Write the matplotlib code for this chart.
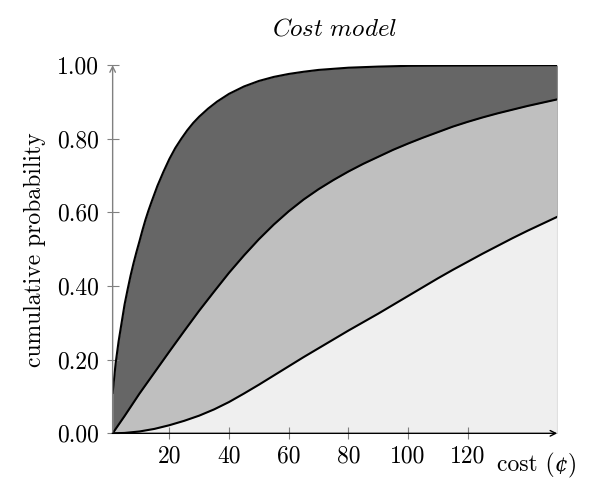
import matplotlib
matplotlib.use("Agg")
import matplotlib.pyplot as plt

plt.rcParams['font.family'] = ['cmr10', 'DejaVu Serif']
plt.rcParams['mathtext.fontset'] = 'cm'
plt.rcParams['axes.formatter.use_mathtext'] = True

# custo (centavos) e probabilidade acumulada de cada curva
cost_top = [1, 1.5, 2, 2.5, 3, 3.5, 4, 5, 6, 7, 8, 9, 10, 11, 12, 13, 14, 15, 16, 18, 20,
            22, 24, 26, 28, 30, 33, 36, 40, 45, 50, 55, 60, 65, 70, 80, 90, 100, 120, 150]
prob_top = [0.11, 0.15, 0.19, 0.22, 0.25, 0.275, 0.30, 0.35, 0.39, 0.428, 0.462, 0.493,
            0.522, 0.552, 0.58, 0.605, 0.628, 0.65, 0.672, 0.71, 0.745, 0.775, 0.80, 0.823,
            0.843, 0.86, 0.882, 0.901, 0.922, 0.942, 0.957, 0.968, 0.976, 0.982, 0.987,
            0.993, 0.996, 0.998, 0.999, 1.0]

cost_mid = [1, 5, 10, 15, 20, 25, 30, 35, 40, 45, 50, 55, 60, 65, 70, 75, 80, 85, 90, 95,
            100, 105, 110, 115, 120, 125, 130, 135, 140, 145, 150]
prob_mid = [0.0, 0.047, 0.108, 0.165, 0.222, 0.278, 0.333, 0.385, 0.436, 0.483, 0.527,
            0.567, 0.603, 0.635, 0.663, 0.688, 0.711, 0.732, 0.751, 0.77, 0.787, 0.803,
            0.818, 0.833, 0.846, 0.858, 0.869, 0.879, 0.889, 0.898, 0.907]

cost_bot = [1, 5, 10, 15, 20, 25, 30, 35, 40, 45, 50, 55, 60, 65, 70, 75, 80, 85, 90, 95,
            100, 105, 110, 115, 120, 125, 130, 135, 140, 145, 150]
prob_bot = [0.0, 0.001, 0.005, 0.012, 0.022, 0.034, 0.048, 0.065, 0.085, 0.108, 0.132,
            0.157, 0.182, 0.207, 0.231, 0.255, 0.279, 0.302, 0.325, 0.349, 0.373, 0.397,
            0.421, 0.444, 0.466, 0.488, 0.509, 0.53, 0.55, 0.569, 0.588]

xticks = [20, 40, 60, 80, 100, 120]
yticks = [0.0, 0.2, 0.4, 0.6, 0.8, 1.0]

fig = plt.figure(figsize=(5.96, 4.86), dpi=100)
ax = fig.add_axes([0.189, 0.1084, 0.746, 0.7576])

# áreas sob cada curva, da mais escura para a mais clara
ax.fill_between(cost_top, 0, prob_top, color='#666666', lw=0, zorder=1)
ax.fill_between(cost_mid, 0, prob_mid, color='#bfbfbf', lw=0, zorder=1.1)
ax.fill_between(cost_bot, 0, prob_bot, color='#efefef', lw=0, zorder=1.2)
ax.plot([150, 150], [0, 1], color='#cccccc', lw=0.8, zorder=1.3)

for c, p in [(cost_top, prob_top), (cost_mid, prob_mid), (cost_bot, prob_bot)]:
    ax.plot(c, p, color='black', lw=1.5, zorder=3)

ax.set_xlim(1, 150)
ax.set_ylim(0, 1)
for s in ax.spines.values():
    s.set_visible(False)

# eixos com seta
ax.annotate('', xy=(1.0, 0), xytext=(-0.001, 0), xycoords='axes fraction',
            arrowprops=dict(arrowstyle='->', color='black', lw=1.0, shrinkA=0, shrinkB=0),
            annotation_clip=False, zorder=5)
ax.annotate('', xy=(0, 1.0), xytext=(0, 0), xycoords='axes fraction',
            arrowprops=dict(arrowstyle='->', color='#808080', lw=1.0, shrinkA=0, shrinkB=0),
            annotation_clip=False, zorder=4)

ax.set_xticks(xticks)
ax.set_xticklabels([str(t) for t in xticks])
ax.set_yticks(yticks)
ax.set_yticklabels(['%.2f' % t for t in yticks])
ax.tick_params(axis='both', direction='inout', length=8, width=0.8, color='#808080',
               labelsize=17)
ax.tick_params(axis='x', pad=5)
ax.tick_params(axis='y', pad=6)

ax.set_ylabel('cumulative probability', fontsize=17, labelpad=8)
ax.set_title(r'$\mathit{Cost\ model}$', fontsize=18, pad=21)

# rótulo do eixo x em partes: cmr10 não tem o símbolo de centavo
renderer = fig.canvas.get_renderer()
W = fig.bbox.width
t1 = fig.text(0.834, 0.031, 'cost (', fontsize=17, va='baseline')
x1 = t1.get_window_extent(renderer).x1 / W
t2 = fig.text(x1, 0.031, '¢', fontsize=15, family='DejaVu Serif', style='italic',
              va='baseline')
x2 = t2.get_window_extent(renderer).x1 / W
fig.text(x2, 0.031, ')', fontsize=17, va='baseline')

plt.savefig('out.png', dpi=100)
